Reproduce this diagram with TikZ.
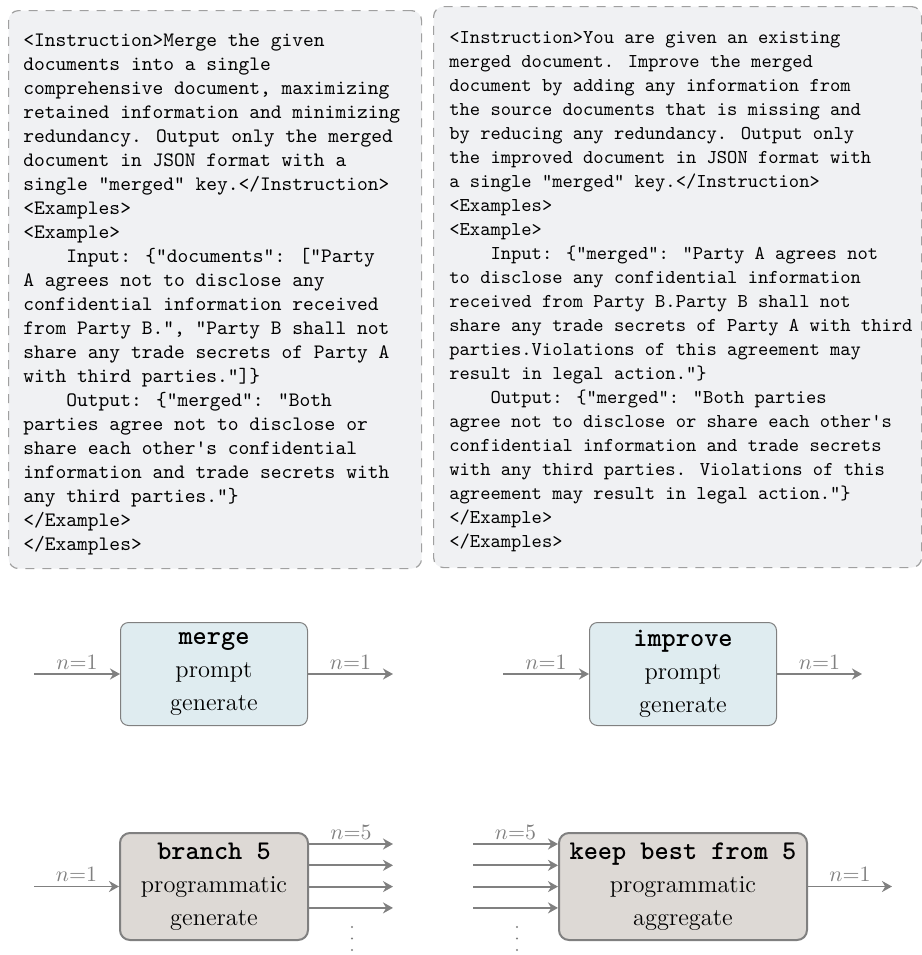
\documentclass[tikz,border=0pt]{standalone}
\usepackage{tikz}
\usetikzlibrary{arrows.meta}

\definecolor{promptbg}{HTML}{F0F1F3}
\definecolor{promptline}{HTML}{A0A0A0}
\definecolor{genfill}{HTML}{DFECF0}
\definecolor{progfill}{HTML}{DDD9D5}
\definecolor{flowgray}{HTML}{808080}

\newcommand\opname[1]{{\ttfamily\bfseries\fontsize{13.5}{16.5}\selectfont #1}}
\newcommand\tabin{\hspace*{4\fontcharwd\font`x}}

\tikzset{
  promptbox/.style={draw=promptline, dash pattern=on 4.5pt off 4pt, line width=0.6pt,
    fill=promptbg, rounded corners=5pt, anchor=north west, inner sep=0pt},
  prompttext/.style={anchor=north west, align=left, inner sep=0pt},
  genbox/.style={draw=flowgray, line width=0.5pt, fill=genfill, rounded corners=4pt,
    minimum width=93.5pt, minimum height=51.5pt, align=center,
    font=\fontsize{12.2}{16.5}\selectfont},
  progbox/.style={draw=flowgray, line width=1pt, fill=progfill, rounded corners=5pt,
    minimum height=53.5pt, align=center, font=\fontsize{12.2}{16.5}\selectfont},
  flow/.style={draw=flowgray, line width=0.9pt, -{Stealth[length=5pt, width=5.5pt, inset=1.6pt]}},
  nlabel/.style={above, text=flowgray, inner sep=2pt, font=\fontsize{11}{13}\selectfont}
}

\begin{document}
\begin{tikzpicture}[x=0.5pt, y=-0.5pt]
    \useasboundingbox (0,0) rectangle (922,955);

    % prompt texts
    \node[promptbox, minimum width=206.5pt, minimum height=279pt] (mergeprompt) at (8,10) {};
    \node[promptbox, minimum width=244pt, minimum height=280.5pt] (improveprompt) at (433,6) {};
    \node[prompttext, font=\ttfamily\fontsize{10.25}{12}\selectfont] (mergetext) at (23,34) {%
      <Instruction>Merge the given\\
      documents into a single\\
      comprehensive document, maximizing\\
      retained information and minimizing\\
      redundancy. Output only the merged\\
      document in JSON format with a\\
      single "merged" key.</Instruction>\\
      <Examples>\\
      <Example>\\
      \tabin Input: \{"documents": ["Party\\
      A agrees not to disclose any\\
      confidential information received\\
      from Party B.", "Party B shall not\\
      share any trade secrets of Party A\\
      with third parties."]\}\\
      \tabin Output: \{"merged": "Both\\
      parties agree not to disclose or\\
      share each other\textquotesingle s confidential\\
      information and trade secrets with\\
      any third parties."\}\\
      </Example>\\
      </Examples>};
    \node[prompttext, font=\ttfamily\fontsize{9.8}{12}\selectfont] (improvetext) at (449,31) {%
      <Instruction>You are given an existing\\
      merged document. Improve the merged\\
      document by adding any information from\\
      the source documents that is missing and\\
      by reducing any redundancy. Output only\\
      the improved document in JSON format with\\
      a single "merged" key.</Instruction>\\
      <Examples>\\
      <Example>\\
      \tabin Input: \{"merged": "Party A agrees not\\
      to disclose any confidential information\\
      received from Party B.Party B shall not\\
      share any trade secrets of Party A with third\\
      parties.Violations of this agreement may\\
      result in legal action."\}\\
      \tabin Output: \{"merged": "Both parties\\
      agree not to disclose or share each other\textquotesingle s\\
      confidential information and trade secrets\\
      with any third parties. Violations of this\\
      agreement may result in legal action."\}\\
      </Example>\\
      </Examples>};

    % operations
    \node[genbox] (merge) at (214,674) {\opname{merge}\\prompt\\generate};
    \node[genbox] (improve) at (683,674) {\opname{improve}\\prompt\\generate};
    \node[progbox, minimum width=94pt] (branch) at (214,886.5)
      {\opname{branch 5}\\programmatic\\generate};
    \node[progbox, minimum width=124pt] (keep) at (683,886.5)
      {\opname{keep best from 5}\\programmatic\\aggregate};

    % single flows
    \coordinate (mergein) at (34,674);
    \coordinate (mergeout) at (393,674);
    \coordinate (improvein) at (503,674);
    \coordinate (improveout) at (862,674);
    \coordinate (branchin) at (34,886.5);
    \coordinate (keepout) at (892,886.5);
    \draw[flow] (mergein) -- node[nlabel] {$n{=}1$} (merge);
    \draw[flow] (merge) -- node[nlabel] {$n{=}1$} (mergeout);
    \draw[flow] (improvein) -- node[nlabel] {$n{=}1$} (improve);
    \draw[flow] (improve) -- node[nlabel] {$n{=}1$} (improveout);
    \draw[flow] (branchin) -- node[nlabel] {$n{=}1$} (branch);
    \draw[flow] (keep) -- node[nlabel] {$n{=}1$} (keepout);

    % branching flows
    \foreach \k in {0,...,3}
    {
      \coordinate (branchout\k) at (393,{844+21.3*\k});
      \coordinate (keepin\k) at (473,{844+21.3*\k});
      \draw[flow] (branch.east |- branchout\k) -- (branchout\k);
      \draw[flow] (keepin\k) -- (keep.west |- keepin\k);
    }
    \path (branch.east |- branchout0) -- node[nlabel] {$n{=}5$} (branchout0);
    \path (keepin0) -- node[nlabel] {$n{=}5$} (keep.west |- keepin0);
    % more branches
    \foreach \d in {0,1,2}
    {
      \fill[flowgray] (352,{927+11.5*\d}) circle (0.6pt);
      \fill[flowgray] (517,{927+11.5*\d}) circle (0.6pt);
    }
\end{tikzpicture}
\end{document}
